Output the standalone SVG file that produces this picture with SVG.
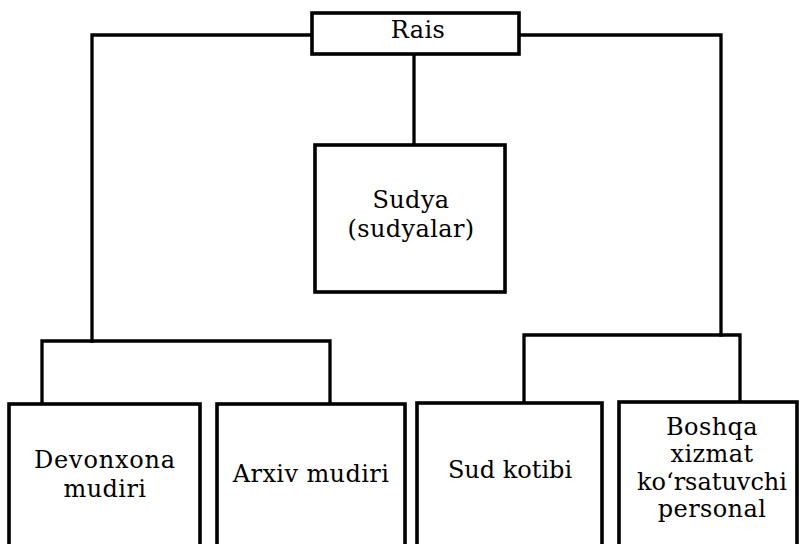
<svg xmlns="http://www.w3.org/2000/svg" width="799" height="544" viewBox="0 0 799 544">
<style>
.box{fill:#fff;stroke:#000;stroke-width:3.6}
.ln{fill:none;stroke:#000;stroke-width:3.3;stroke-linejoin:miter;stroke-linecap:square}
.t{font-family:"DejaVu Serif","Liberation Serif",serif;font-size:24px;fill:#000;text-anchor:middle;letter-spacing:0.4px}
</style>
<rect width="799" height="544" fill="#fff"/>
<g id="connectors">
<path class="ln" d="M312,35 H92 V341"/>
<path class="ln" d="M42,404 V341 H330 V404"/>
<path class="ln" d="M519,35 H721 V335"/>
<path class="ln" d="M524,402 V335 H740 V402"/>
<path class="ln" d="M414,54 V145"/>
</g>
<g id="rais">
<rect class="box" x="312" y="13" width="207" height="41"/>
<text class="t" x="418" y="38">Rais</text>
</g>
<g id="sudya">
<rect class="box" x="315" y="145" width="190" height="147"/>
<text class="t" x="411" y="208">Sudya</text>
<text class="t" x="411" y="237">(sudyalar)</text>
</g>
<g id="devonxona">
<rect class="box" x="9" y="404" width="191" height="150"/>
<text class="t" x="105" y="468" style="letter-spacing:0.8px">Devonxona</text>
<text class="t" x="105" y="497">mudiri</text>
</g>
<g id="arxiv">
<rect class="box" x="217" y="404" width="188" height="150"/>
<text class="t" x="311" y="482">Arxiv mudiri</text>
</g>
<g id="sudkotibi">
<rect class="box" x="417" y="403" width="185" height="150"/>
<text class="t" x="510" y="478" style="letter-spacing:0">Sud kotibi</text>
</g>
<g id="boshqa">
<rect class="box" x="619" y="402" width="178" height="150"/>
<text class="t" x="712" y="435">Boshqa</text>
<text class="t" x="712" y="462">xizmat</text>
<text class="t" x="712" y="490" style="letter-spacing:0">ko‘rsatuvchi</text>
<text class="t" x="712" y="517">personal</text>
</g>
</svg>
